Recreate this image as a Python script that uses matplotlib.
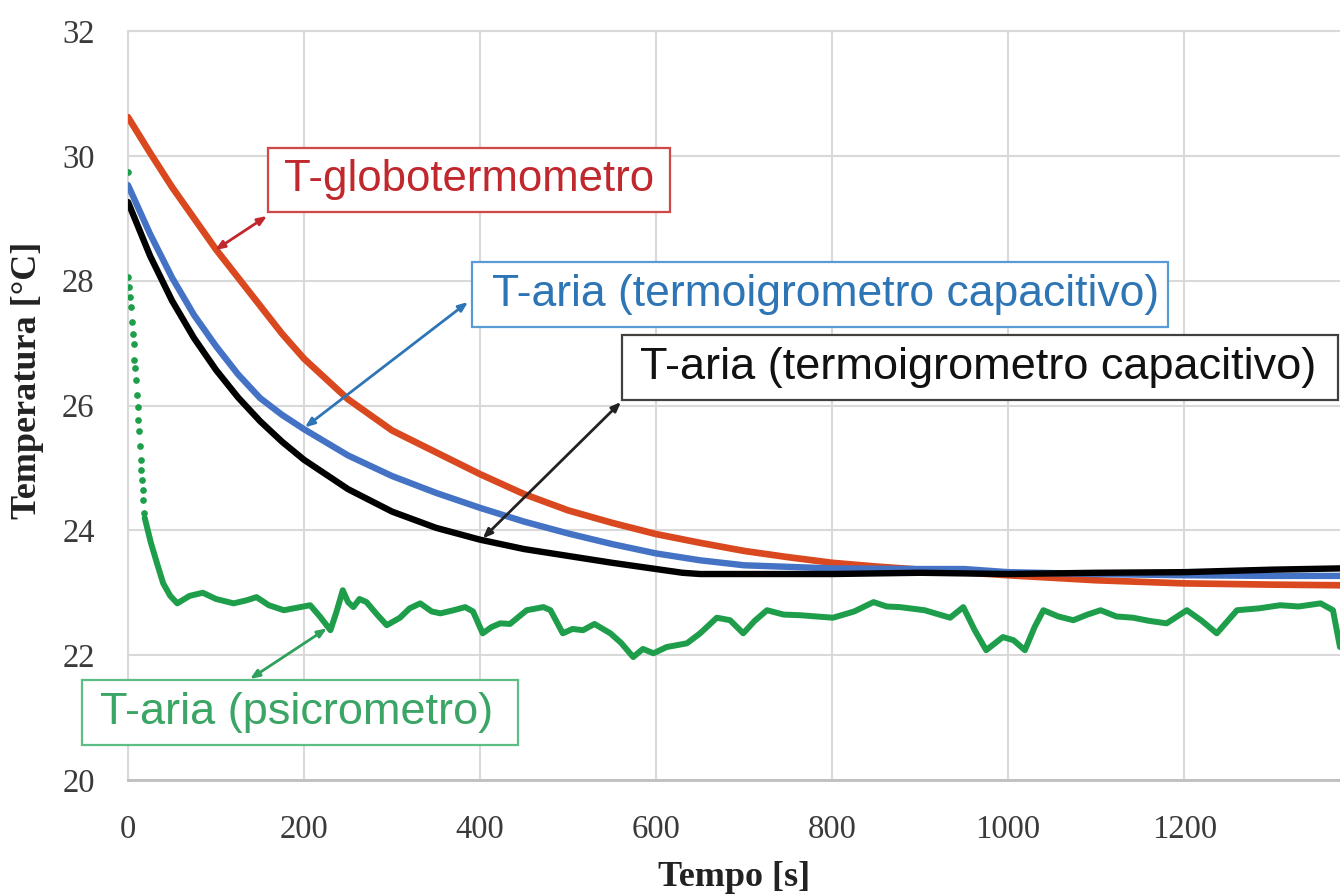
import matplotlib
matplotlib.use("Agg")
import matplotlib.pyplot as plt
from matplotlib.patches import Rectangle

# ---------------- data ----------------
time_red = [0, 25, 50, 75, 100, 125, 150, 175, 200, 250, 300, 350, 400, 450, 500, 550, 600,
            650, 700, 750, 800, 850, 900, 1000, 1100, 1200, 1300, 1377]
temp_red = [30.62, 30.05, 29.5, 29.0, 28.5, 28.05, 27.6, 27.15, 26.75, 26.1, 25.6, 25.25,
            24.9, 24.58, 24.32, 24.12, 23.94, 23.8, 23.67, 23.57, 23.48, 23.42, 23.37, 23.28,
            23.2, 23.15, 23.13, 23.12]

time_blue = [0, 25, 50, 75, 100, 125, 150, 175, 200, 250, 300, 350, 400, 450, 500, 550, 600,
             650, 700, 800, 900, 950, 1000, 1100, 1200, 1300, 1377]
temp_blue = [29.53, 28.75, 28.05, 27.45, 26.95, 26.5, 26.12, 25.85, 25.62, 25.2, 24.87, 24.6,
             24.36, 24.14, 23.95, 23.78, 23.63, 23.52, 23.44, 23.39, 23.38, 23.38, 23.33, 23.3,
             23.28, 23.27, 23.27]

time_black = [0, 25, 50, 75, 100, 125, 150, 175, 200, 250, 300, 350, 400, 450, 500, 550, 600,
              630, 650, 700, 800, 900, 1000, 1100, 1200, 1300, 1377]
temp_black = [29.26, 28.4, 27.68, 27.08, 26.57, 26.13, 25.75, 25.42, 25.13, 24.66, 24.3, 24.04,
              23.85, 23.7, 23.59, 23.48, 23.38, 23.32, 23.3, 23.3, 23.3, 23.32, 23.3, 23.32,
              23.33, 23.37, 23.39]

time_green_dots = [0, 0.3, 1.5, 2.3, 3.4, 4.2, 5.5, 6.3, 7.2, 8, 9.1, 9.9, 11, 11.7, 12.8,
                   13.6, 14.4, 14.8, 15.6, 16.7, 17.4, 18.5]
temp_green_dots = [29.74, 28.06, 27.9, 27.74, 27.58, 27.34, 27.15, 26.99, 26.73, 26.6, 26.41,
                   26.17, 25.98, 25.77, 25.59, 25.35, 25.13, 24.97, 24.81, 24.65, 24.49, 24.27]

time_green = [19, 26, 33, 40, 48, 56, 70, 85, 100, 120, 135, 146, 160, 177, 192, 207, 218,
              230, 237, 244, 250, 256, 263, 271, 283, 294, 309, 320, 332, 345, 355, 370, 383,
              392, 403, 413, 423, 434, 453, 472, 480, 494, 505, 517, 530, 548, 560, 574, 585,
              597, 612, 635, 650, 669, 684, 699, 712, 726, 745, 764, 782, 801, 825, 847, 862,
              877, 905, 934, 949, 962, 975, 994, 1006, 1019, 1030, 1040, 1057, 1074, 1090,
              1105, 1123, 1142, 1160, 1180, 1203, 1220, 1237, 1260, 1285, 1309, 1330, 1355,
              1369, 1377]
temp_green = [24.2, 23.8, 23.47, 23.15, 22.95, 22.83, 22.95, 23.0, 22.9, 22.83, 22.88, 22.93,
              22.8, 22.72, 22.76, 22.8, 22.62, 22.4, 22.7, 23.04, 22.85, 22.77, 22.9, 22.85,
              22.65, 22.48, 22.6, 22.75, 22.83, 22.7, 22.67, 22.72, 22.77, 22.7, 22.35, 22.45,
              22.51, 22.5, 22.72, 22.77, 22.72, 22.35, 22.42, 22.4, 22.5, 22.35, 22.2, 21.97,
              22.1, 22.03, 22.13, 22.19, 22.35, 22.6, 22.56, 22.35, 22.55, 22.72, 22.65, 22.64,
              22.62, 22.6, 22.7, 22.85, 22.78, 22.77, 22.72, 22.6, 22.77, 22.4, 22.08, 22.29,
              22.24, 22.08, 22.45, 22.72, 22.62, 22.56, 22.65, 22.72, 22.62, 22.6, 22.55,
              22.51, 22.72, 22.55, 22.35, 22.72, 22.75, 22.8, 22.78, 22.83, 22.72, 22.13]

x_ticks = [0, 200, 400, 600, 800, 1000, 1200]
y_ticks = [20, 22, 24, 26, 28, 30, 32]

label_red = "T-globotermometro"
label_blue = "T-aria (termoigrometro capacitivo)"
label_black = "T-aria (termoigrometro capacitivo)"
label_green = "T-aria (psicrometro)"

# arrow targets on the curves (time, temperature)
target_red = (99, 28.49)
target_blue = (201, 25.65)
target_black = (403, 23.87)
target_green = (226, 22.43)

# ---------------- figure ----------------
W, H = 1340, 894
fig = plt.figure(figsize=(W / 100, H / 100), dpi=100)
ax = fig.add_axes([128 / W, 1 - 780 / H, (W - 128) / W, (780 - 31) / H])

c_red, c_blue, c_black, c_green = "#D9481F", "#4472C4", "#000000", "#1E9E4A"

ax.plot(time_red, temp_red, color=c_red, lw=4.8, zorder=3, solid_capstyle="round")
ax.plot(time_blue, temp_blue, color=c_blue, lw=4.6, zorder=4, solid_capstyle="round")
ax.plot(time_black, temp_black, color=c_black, lw=4.6, zorder=5, solid_capstyle="round")
ax.plot(time_green, temp_green, color=c_green, lw=4.3, zorder=3,
        solid_joinstyle="round", solid_capstyle="round")
ax.plot(time_green_dots, temp_green_dots, linestyle="none", marker="o", ms=3.8,
        color=c_green, zorder=3)

ax.set_xlim(0, 1377)
ax.set_ylim(20, 32)
ax.set_xticks(x_ticks)
ax.set_yticks(y_ticks)
ax.grid(True, color="#D9D9D9", lw=1.5, zorder=0)
ax.set_axisbelow(True)
ax.spines["right"].set_visible(False)
ax.spines["top"].set_color("#D9D9D9")
ax.spines["top"].set_linewidth(1.5)
ax.spines["left"].set_color("#D9D9D9")
ax.spines["left"].set_linewidth(1.5)
ax.spines["bottom"].set_color("#BFBFBF")
ax.spines["bottom"].set_linewidth(2)
ax.tick_params(length=0, labelsize=23.5, labelcolor="#3A3A3A")
ax.tick_params(axis="x", pad=25)
ax.tick_params(axis="y", pad=24)
for lab in ax.get_xticklabels() + ax.get_yticklabels():
    lab.set_fontfamily("Liberation Serif")

fig.text(28 / W, 1 - 380 / H, "Temperatura [°C]", rotation=90, ha="center", va="center",
         fontsize=26, fontweight="bold", family="Liberation Serif", color="#222222")
fig.text(734 / W, 1 - 877 / H, "Tempo [s]", ha="center", va="center",
         fontsize=26, fontweight="bold", family="Liberation Serif", color="#222222")


def box(left, top, right, bottom, text_x, text, size, tcolor, ecolor):
    fig.patches.append(Rectangle((left, H - bottom), right - left, bottom - top,
                                 transform=None, fc="white", ec=ecolor, lw=1.6, zorder=8))
    fig.text(text_x / W, 1 - (top + bottom) / 2 / H, text, ha="left", va="center",
             fontsize=size, family="Liberation Sans", color=tcolor, zorder=10)


def arrow(start_px, target, color):
    ax.annotate("", xy=target, xycoords="data",
                xytext=(start_px[0], H - start_px[1]), textcoords="figure pixels",
                arrowprops=dict(arrowstyle="<|-|>,head_length=0.55,head_width=0.22",
                                color=color, lw=2.0, shrinkA=0, shrinkB=0), zorder=9)


box(268, 148, 670, 212, 284, label_red, 31.5, "#C0282D", "#D04848")
box(472, 262, 1168, 327, 492, label_blue, 32, "#2E75B6", "#5B9BD5")
box(622, 335, 1338, 400, 640, label_black, 32.5, "#111111", "#404040")
box(82, 680, 518, 745, 100, label_green, 32.5, "#3AA564", "#5DBE85")

arrow((267, 216), target_red, "#C0282D")
arrow((468, 302), target_blue, "#2E75B6")
arrow((621, 402), target_black, "#222222")
arrow((250, 679), target_green, "#2EA05A")

fig.savefig("out.png", dpi=100)
